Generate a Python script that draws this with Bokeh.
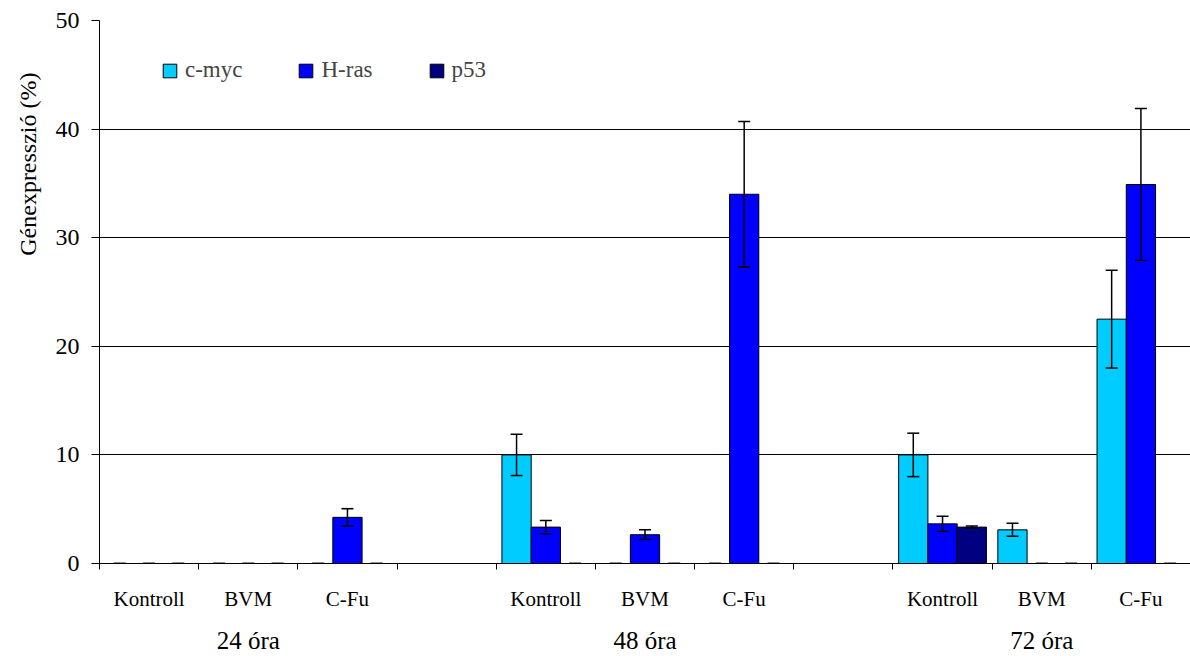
import math
from bokeh.plotting import figure
from bokeh.models import (ColumnDataSource, Range1d, FixedTicker, Whisker, TeeHead,
                          Legend, LegendItem, LinearAxis, Title)
from bokeh.embed import file_html
from bokeh.resources import INLINE

# ---------------- data ----------------
groups = ["24 óra", "48 óra", "72 óra"]
treatments = ["Kontroll", "BVM", "C-Fu"]
series = ["c-myc", "H-ras", "p53"]
colors = ["#00CCFF", "#0000FF", "#000080"]

# order: 24h Kontroll, BVM, C-Fu, 48h Kontroll, BVM, C-Fu, 72h Kontroll, BVM, C-Fu
cmyc = [0, 0, 0, 10.0, 0, 0, 10.0, 3.1, 22.5]
cmyc_err = [0, 0, 0, 1.9, 0, 0, 2.0, 0.6, 4.5]
hras = [0, 0, 4.25, 3.35, 2.65, 34.0, 3.65, 0, 34.9]
hras_err = [0, 0, 0.8, 0.6, 0.45, 6.7, 0.7, 0, 7.0]
p53 = [0, 0, 0, 0, 0, 0, 3.35, 0, 0]
p53_err = [0, 0, 0, 0, 0, 0, 0.1, 0, 0]

y_ticks = [0, 10, 20, 30, 40, 50]
y_title = "Génexpresszió (%)"

values = [cmyc, hras, p53]
errors = [cmyc_err, hras_err, p53_err]

FONT = "Liberation Serif"

# slot layout: 3 treatments per group + 1 empty slot between groups
slots_per_group = len(treatments) + 1
n_slots = len(groups) * slots_per_group - 1
slot_index = [g * slots_per_group + t for g in range(len(groups)) for t in range(len(treatments))]
bar_w = 0.295
offsets = [-bar_w, 0.0, bar_w]

p = figure(width=1190, height=656, output_backend="svg", toolbar_location=None,
           x_range=Range1d(0, n_slots), y_range=Range1d(0, 50),
           min_border_left=98, min_border_right=0, min_border_top=20, min_border_bottom=93)
p.outline_line_color = None
p.background_fill_color = "white"
p.border_fill_color = "white"

legend_items = []
for k, name in enumerate(series):
    xs, tops = [], []
    ex, up, lo = [], [], []
    for i, s in enumerate(slot_index):
        x = s + 0.5 + offsets[k]
        v = values[k][i]
        e = errors[k][i]
        ex.append(x); up.append(v + e); lo.append(v - e)
        if v > 0:
            xs.append(x); tops.append(v)
    src = ColumnDataSource(dict(x=xs, top=tops))
    r = p.vbar(x="x", top="top", bottom=0, width=bar_w, source=src,
               fill_color=colors[k], line_color="black", line_width=1)
    legend_items.append(LegendItem(label=name, renderers=[r]))
    wsrc = ColumnDataSource(dict(x=ex, upper=up, lower=lo))
    w = Whisker(source=wsrc, base="x", upper="upper", lower="lower", dimension="height",
                line_color="black", line_width=1.5, level="overlay",
                upper_head=TeeHead(size=12, line_width=1.5, line_color="black"),
                lower_head=TeeHead(size=12, line_width=1.5, line_color="black"))
    p.add_layout(w)

# y axis
p.yaxis.ticker = FixedTicker(ticks=y_ticks)
p.ygrid.ticker = FixedTicker(ticks=y_ticks)
p.ygrid.grid_line_color = "black"
p.ygrid.grid_line_width = 1
p.xgrid.visible = False
p.yaxis.major_tick_out = 8
p.yaxis.major_tick_in = 0
p.yaxis.minor_tick_line_color = None
p.yaxis.major_label_standoff = 12
p.yaxis.major_label_text_font = FONT
p.yaxis.major_label_text_font_size = "24px"
p.yaxis.major_label_text_color = "black"
p.yaxis.axis_line_color = "black"
p.yaxis.major_tick_line_color = "black"

# x axis: category labels at slot centres, separator ticks (minor) at slot edges
centres = [s + 0.5 for s in slot_index]
p.xaxis.ticker = FixedTicker(ticks=centres, minor_ticks=list(range(n_slots + 1)))
p.xaxis.major_label_overrides = {c: treatments[i % len(treatments)] for i, c in enumerate(centres)}
p.xaxis.major_tick_out = 0
p.xaxis.major_tick_in = 0
p.xaxis.minor_tick_out = 6
p.xaxis.minor_tick_in = 0
p.xaxis.minor_tick_line_color = "black"
p.xaxis.major_tick_line_color = None
p.xaxis.major_label_standoff = 17
p.xaxis.major_label_text_font = FONT
p.xaxis.major_label_text_font_size = "21px"
p.xaxis.major_label_text_color = "black"
p.xaxis.axis_line_color = "black"

# group labels on a second axis below
gcent = [g * slots_per_group + 1.5 for g in range(len(groups))]
gax = LinearAxis(ticker=FixedTicker(ticks=gcent, minor_ticks=[]),
                 major_label_overrides={c: groups[i] for i, c in enumerate(gcent)},
                 axis_line_color=None, major_tick_line_color=None, minor_tick_line_color=None,
                 major_tick_out=0, major_tick_in=0, major_label_standoff=13,
                 major_label_text_font=FONT, major_label_text_font_size="25px",
                 major_label_text_color="black")
p.add_layout(gax, "below")

# y axis title (placed high, as in the reference)
p.add_layout(Title(text=y_title, align="right", offset=52, text_font=FONT,
                   text_font_size="24px", text_font_style="normal", text_color="black",
                   standoff=24), "left")

legend = Legend(items=legend_items, orientation="horizontal", location=(62, 480),
                border_line_color=None, background_fill_alpha=0, padding=0, margin=0,
                spacing=55, label_standoff=7, glyph_width=17, glyph_height=17,
                label_text_font=FONT, label_text_font_size="23px")
p.add_layout(legend)

open("out.html", "w").write(file_html(p, INLINE))
